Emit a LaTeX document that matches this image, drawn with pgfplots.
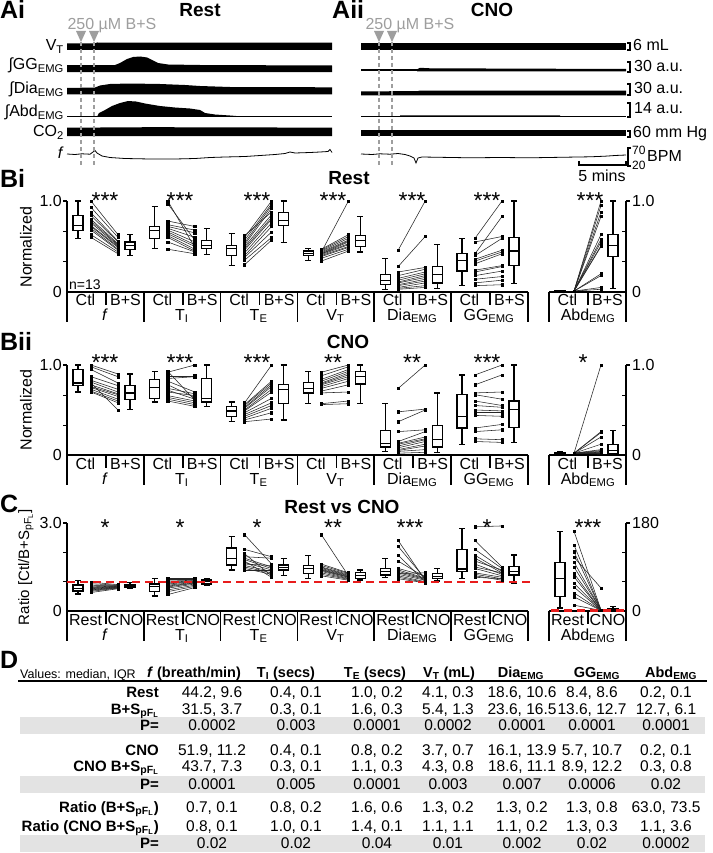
\documentclass[border=0pt]{standalone}
\usepackage{fontspec}
\setmainfont{Liberation Sans}
\usepackage{graphicx}
\usepackage{pgfplots}
\pgfplotsset{compat=1.18}
\usepackage{pgfplotstable}

\newcommand{\fs}[1]{\fontsize{#1}{#1}\selectfont}
\newcommand{\sub}[1]{\textsubscript{#1}}
\newcommand{\pfl}{\sub{pF\sub{L}}}

\definecolor{arrowgray}{gray}{0.62}
\definecolor{bandgray}{gray}{0.89}
\definecolor{ratiored}{RGB}{232,28,28}

\pgfplotsset{
  panel/.style={hide axis, x=1pt, anchor=south west, clip=false, enlargelimits=false, disabledatascaling},
  boxst/.style={black, solid, line width=1.2pt, mark=none},
  pairln/.style={black!85, line width=0.55pt, mark=square*, mark size=1.1pt, mark options={solid, black}},
  refline/.style={draw=ratiored, color=ratiored, line width=2.2pt, dash pattern=on 8pt off 5pt, mark=none},
}
% box plot from its five numbers: position, lower whisker, lower quartile, median, upper quartile, upper whisker
\newcommand{\bx}[6]{%
  \pgfmathsetmacro\bxL{#1-5}\pgfmathsetmacro\bxR{#1+5}%
  \pgfmathsetmacro\cxL{#1-3}\pgfmathsetmacro\cxR{#1+3}%
  \edef\bxtmp{%
    \noexpand\addplot[boxst] coordinates {(#1,#5) (#1,#6)};
    \noexpand\addplot[boxst] coordinates {(#1,#3) (#1,#2)};
    \noexpand\addplot[boxst] coordinates {(\cxL,#6) (\cxR,#6)};
    \noexpand\addplot[boxst] coordinates {(\cxL,#2) (\cxR,#2)};
    \noexpand\addplot[boxst, fill=white] coordinates {(\bxL,#3) (\bxR,#3) (\bxR,#5) (\bxL,#5)} -- cycle;
    \noexpand\addplot[boxst] coordinates {(\bxL,#4) (\bxR,#4)};
  }\bxtmp}

% one line per subject, from the left value to the right value of its group
\newcommand{\drawpairs}[1]{%
  \pgfplotstablegetrowsof{#1}%
  \pgfmathtruncatemacro\nrows{\pgfplotsretval-1}%
  \pgfplotsforeachungrouped \i in {0,...,\nrows}{%
    \pgfplotstablegetelem{\i}{g}\of{#1}\let\pairG\pgfplotsretval
    \pgfplotstablegetelem{\i}{yl}\of{#1}\let\pairL\pgfplotsretval
    \pgfplotstablegetelem{\i}{yr}\of{#1}\let\pairR\pgfplotsretval
    \pgfmathsetmacro\pairXL{\pairG<6 ? 91+76.8*\pairG : 574}%
    \pgfmathsetmacro\pairXR{\pairXL+27}%
    \edef\pairtmp{\noexpand\addplot[pairln] coordinates {(\pairXL,\pairL) (\pairXR,\pairR)};}%
    \pairtmp
  }%
}

% paired values, g = group (0 f, 1 TI, 2 TE, 3 VT, 4 Dia, 5 GG, 6 Abd)
\pgfplotstableread{
g yl yr
0 1.00 0.63
0 0.93 0.60
0 0.87 0.56
0 0.84 0.55
0 0.80 0.53
0 0.78 0.52
0 0.76 0.51
0 0.73 0.50
0 0.72 0.49
0 0.70 0.47
0 0.68 0.46
0 0.63 0.44
0 0.60 0.42
1 1.00 0.49
1 0.97 0.57
1 0.78 0.72
1 0.74 0.68
1 0.72 0.65
1 0.70 0.60
1 0.68 0.55
1 0.66 0.52
1 0.64 0.50
1 0.62 0.47
1 0.60 0.45
1 0.55 0.44
1 0.47 0.42
2 0.62 0.88
2 0.60 1.00
2 0.57 0.97
2 0.54 0.95
2 0.52 0.92
2 0.50 0.85
2 0.48 0.82
2 0.46 0.80
2 0.43 0.76
2 0.40 0.72
2 0.38 0.66
2 0.35 0.60
2 0.30 0.57
3 0.47 0.63
3 0.46 0.61
3 0.45 0.59
3 0.44 1.00
3 0.44 0.57
3 0.43 0.56
3 0.42 0.55
3 0.42 0.53
3 0.41 0.52
3 0.40 0.50
3 0.39 0.49
3 0.37 0.47
3 0.34 0.45
4 0.46 1.00
4 0.28 0.61
4 0.22 0.27
4 0.18 0.25
4 0.15 0.22
4 0.13 0.20
4 0.11 0.18
4 0.10 0.16
4 0.08 0.14
4 0.07 0.12
4 0.05 0.10
4 0.04 0.07
4 0.03 0.05
5 0.59 1.00
5 0.55 0.61
5 0.42 0.83
5 0.40 0.59
5 0.36 0.46
5 0.34 0.44
5 0.31 0.42
5 0.24 0.29
5 0.22 0.28
5 0.18 0.23
5 0.14 0.17
5 0.10 0.13
5 0.07 0.08
6 0.01 1.00
6 0.01 0.95
6 0.01 0.88
6 0.01 0.83
6 0.01 0.63
6 0.01 0.58
6 0.01 0.55
6 0.01 0.51
6 0.01 0.50
6 0.01 0.20
6 0.01 0.18
6 0.01 0.05
6 0.01 0.03
}\BiPairs

\pgfplotstableread{
g yl yr
0 1.00 0.90
0 0.98 0.87
0 0.95 0.80
0 0.87 0.77
0 0.83 0.73
0 0.81 0.70
0 0.80 0.50
0 0.78 0.68
0 0.76 0.67
0 0.75 0.65
0 0.73 0.62
0 0.71 0.60
0 0.70 0.58
1 0.93 0.61
1 0.92 1.00
1 0.88 0.88
1 0.85 0.87
1 0.82 0.70
1 0.78 0.64
1 0.74 0.68
1 0.72 0.62
1 0.70 0.66
1 0.66 0.60
1 0.64 0.58
1 0.62 0.56
1 0.60 0.54
2 0.58 1.00
2 0.56 0.82
2 0.55 0.80
2 0.53 0.78
2 0.52 0.76
2 0.50 0.73
2 0.49 0.70
2 0.47 0.63
2 0.45 0.58
2 0.43 0.55
2 0.41 0.52
2 0.39 0.47
2 0.37 0.40
3 0.92 1.00
3 0.88 0.98
3 0.84 0.95
3 0.82 0.93
3 0.80 0.91
3 0.79 0.89
3 0.78 0.87
3 0.76 0.85
3 0.74 0.82
3 0.71 0.78
3 0.69 0.70
3 0.57 0.60
3 0.56 0.57
4 0.74 1.00
4 0.48 0.51
4 0.37 0.50
4 0.26 0.28
4 0.15 0.26
4 0.13 0.20
4 0.12 0.18
4 0.10 0.17
4 0.08 0.15
4 0.06 0.12
4 0.05 0.10
4 0.04 0.06
4 0.02 0.03
5 0.89 1.00
5 0.78 0.89
5 0.69 0.70
5 0.67 0.62
5 0.60 0.55
5 0.55 0.53
5 0.50 0.49
5 0.47 0.47
5 0.44 0.43
5 0.30 0.34
5 0.26 0.28
5 0.18 0.17
5 0.15 0.14
6 0.02 1.00
6 0.02 0.26
6 0.02 0.25
6 0.02 0.20
6 0.02 0.12
6 0.02 0.06
6 0.02 0.05
6 0.02 0.04
6 0.02 0.03
6 0.02 0.03
6 0.02 0.02
6 0.02 0.02
6 0.02 0.01
}\BiiPairs

\pgfplotstableread{
g yl yr
0 0.98 0.90
0 0.93 0.88
0 0.88 0.87
0 0.85 0.86
0 0.82 0.85
0 0.80 0.84
0 0.78 0.83
0 0.76 0.82
0 0.74 0.81
0 0.72 0.80
0 0.70 0.79
0 0.67 0.78
0 0.63 0.76
1 1.12 1.12
1 1.08 1.08
1 1.02 1.05
1 0.98 1.03
1 0.95 1.01
1 0.92 1.00
1 0.88 0.98
1 0.85 0.96
1 0.82 0.95
1 0.78 0.92
1 0.72 0.88
1 0.66 0.84
1 0.56 0.80
2 2.60 1.60
2 2.10 1.85
2 1.95 1.20
2 1.85 1.80
2 1.80 1.50
2 1.75 1.45
2 1.70 1.15
2 1.65 1.40
2 1.60 1.55
2 1.55 1.35
2 1.50 1.30
2 1.45 1.25
2 1.40 1.40
3 2.60 1.20
3 1.60 1.30
3 1.55 1.28
3 1.50 1.25
3 1.48 1.22
3 1.45 1.20
3 1.42 1.18
3 1.40 1.16
3 1.38 1.15
3 1.35 1.12
3 1.30 1.10
3 1.25 1.08
3 1.20 1.05
4 2.40 1.05
4 2.20 1.10
4 1.90 1.00
4 1.70 1.15
4 1.45 1.20
4 1.40 1.12
4 1.35 1.10
4 1.30 1.08
4 1.28 1.30
4 1.25 1.05
4 1.20 1.00
4 1.15 0.98
4 1.10 0.96
5 2.87 2.90
5 2.40 1.50
5 2.10 1.45
5 1.90 1.35
5 1.80 1.30
5 1.70 1.40
5 1.60 1.25
5 1.50 1.30
5 1.45 1.20
5 1.30 1.15
5 1.25 1.10
5 1.20 1.05
5 1.15 1.10
}\CPairs

\pgfplotstableread{
g yl yr
6 163 2
6 135 2
6 121 2
6 110 47
6 100 2
6 90 2
6 77 1
6 70 1
6 57 1
6 49 1
6 37 1
6 29 1
6 12 1
}\CAbdPairs

\tikzset{
  axl/.style={black, line width=1.6pt},
  lab/.style={font=\fs{16}, inner sep=0pt, anchor=base},
  ttl/.style={font=\bfseries\fs{19}, inner sep=0pt, anchor=base},
  plab/.style={font=\bfseries\fs{25}, inner sep=0pt, anchor=base west},
  star/.style={font=\fs{23}, inner sep=0pt, anchor=base},
  tl/.style={font=\bfseries\fs{15}, inner sep=0pt, anchor=base east},
  tv/.style={font=\fs{15.5}, inner sep=0pt, anchor=base},
  th/.style={font=\bfseries\fs{14.5}, inner sep=0pt, anchor=base},
}

% frame of a B/C panel: #1 = zero line (px), #2 = top (px)
\newcommand{\panelframe}[2]{%
  \draw[axl] (67,#2) -- (67,#1+30);
  \draw[axl] (626,#2) -- (626,#1+30);
  \draw[axl] (67,#1) -- (527.8,#1);
  \draw[axl] (549,#1) -- (626,#1);
  \foreach \b in {143.8,220.6,297.4,374.2,451,527.8,549} \draw[axl] (\b,#1) -- (\b,#1+30);
  \foreach \t in {106,182.8,259.6,336.4,413.2,490,588} \draw[axl] (\t,#1) -- (\t,#1+13);
}
% condition labels: #1 baseline, #2 left, #3 right
\newcommand{\condlabels}[3]{%
  \foreach \s in {67,143.8,220.6,297.4,374.2,451,549} {
    \node[lab] at (\s+18.5,#1) {#2};
    \node[lab] at (\s+58.5,#1) {#3};
  }
}
\newcommand{\grouplabels}[1]{%
  \node[lab] at (105,#1) {\textit{f}};
  \node[lab] at (181.8,#1) {T\sub{I}};
  \node[lab] at (258.6,#1) {T\sub{E}};
  \node[lab] at (335.4,#1) {V\sub{T}};
  \node[lab] at (412.2,#1) {Dia\sub{EMG}};
  \node[lab] at (489,#1) {GG\sub{EMG}};
  \node[lab] at (588,#1) {Abd\sub{EMG}};
}
\newcommand{\trow}[9]{%
  \node[tl] at (159,#1) {#2};
  \node[tv] at (212,#1) {#3};
  \node[tv] at (296,#1) {#4};
  \node[tv] at (377,#1) {#5};
  \node[tv] at (448,#1) {#6};
  \node[tv] at (522,#1) {#7};
  \node[tv] at (592,#1) {#8};
  \node[tv] at (666,#1) {#9};
}

\begin{document}
\begin{tikzpicture}
\fill[white] (0,0) rectangle (712pt,-853pt);
\path[use as bounding box] (0,0) rectangle (712pt,-853pt);

% ---------- labels, frames, table (drawn first, data on top) ----------
\begin{scope}[x=1pt, y=-1pt]
% A
\node[plab] at (0,19) {Ai};
\node[ttl] at (200,17) {Rest};
\node[plab] at (332,19) {Aii};
\node[ttl] at (492,17) {CNO};
\foreach \x in {112,410} \node[lab, text=arrowgray] at (\x,30) {250 µM B+S};
\node[lab, anchor=base east] at (64,50.5) {V\sub{T}};
\node[lab, anchor=base east] at (64,70) {∫GG\sub{EMG}};
\node[lab, anchor=base east] at (64,94) {∫Dia\sub{EMG}};
\node[lab, anchor=base east] at (64,117) {∫Abd\sub{EMG}};
\node[lab, anchor=base east] at (64,137) {CO\sub{2}};
\node[lab, anchor=base east] at (64,159) {\textit{f}};
% scale bars
\draw[line width=1.1pt] (627,43) -- (630,43) -- (630,50) -- (627,50);
\draw[line width=1.1pt] (627,62) -- (630,62) -- (630,72) -- (627,72);
\draw[line width=1.1pt] (627,84) -- (630,84) -- (630,95) -- (627,95);
\draw[line width=1.1pt] (627,103) -- (630,103) -- (630,117) -- (627,117);
\draw[line width=1.1pt] (627,131) -- (630,131) -- (630,137) -- (627,137);
\draw[line width=1.1pt] (631,148) -- (628,148) -- (628,166) -- (631,166);
\node[lab, anchor=base west] at (633,51) {6 mL};
\node[lab, anchor=base west] at (634,72) {30 a.u.};
\node[lab, anchor=base west] at (634,94) {30 a.u.};
\node[lab, anchor=base west] at (634,114) {14 a.u.};
\node[lab, anchor=base west] at (633,138) {60 mm Hg};
\node[font=\fs{12}, inner sep=0pt, anchor=base west] at (632,155) {70};
\node[font=\fs{12}, inner sep=0pt, anchor=base west] at (632,170) {20};
\node[lab, anchor=base west] at (647,162) {BPM};
\draw[line width=1.1pt] (579,161) -- (579,165) -- (626,165) -- (626,161);
\node[lab] at (602,182) {5 mins};

% Bi
\node[plab] at (0,187) {Bi};
\node[ttl] at (349,185) {Rest};
\panelframe{292}{201}
\condlabels{305}{Ctl}{B+S}
\grouplabels{320}
\node[font=\fs{14}, inner sep=0pt, anchor=base west] at (69,289) {n=13};
\node[font=\fs{16}, rotate=90] at (26,247) {Normalized};
\foreach \y/\t in {201/1.0, 292/0} \node[lab, anchor=base east] at (62,\y+5.5) {\t};
\foreach \y/\t in {201/1.0, 292/0} \node[lab, anchor=base west] at (632,\y+5.5) {\t};
\foreach \y in {231.3,261.7} {\draw[axl, line width=1pt] (67,\y) -- (63,\y); \draw[axl, line width=1pt] (626,\y) -- (622,\y);}
\draw[axl] (63,201) -- (67,201); \draw[axl] (626,201) -- (630,201);
\foreach \x/\s in {105/***,180/***,257/***,333/***,412/***,487/***,590/***} \node[star] at (\x,208) {\s};

% Bii
\node[plab] at (0,350) {Bii};
\node[ttl] at (348,348) {CNO};
\panelframe{455}{365}
\condlabels{469}{Ctl}{B+S}
\grouplabels{484}
\node[font=\fs{16}, rotate=90] at (26,410) {Normalized};
\foreach \y/\t in {365/1.0, 455/0} \node[lab, anchor=base east] at (62,\y+5.5) {\t};
\foreach \y/\t in {365/1.0, 455/0} \node[lab, anchor=base west] at (632,\y+5.5) {\t};
\foreach \y in {395,425} {\draw[axl, line width=1pt] (67,\y) -- (63,\y); \draw[axl, line width=1pt] (626,\y) -- (622,\y);}
\draw[axl] (63,365) -- (67,365); \draw[axl] (626,365) -- (630,365);
\foreach \x/\s in {105/***,180/***,257/***,333/**,412/**,487/***,583/*} \node[star] at (\x,370) {\s};

% C
\node[plab] at (0,512) {C};
\node[ttl] at (342,513) {Rest vs CNO};
\panelframe{611}{523}
\condlabels{625}{Rest}{CNO}
\grouplabels{640}
\node[font=\fs{15}, rotate=90] at (26,567) {Ratio [Ctl/B+S\pfl]};
\foreach \y/\t in {523/3.0, 611/0} \node[lab, anchor=base east] at (62,\y+5.5) {\t};
\foreach \y/\t in {523/180, 611/0} \node[lab, anchor=base west] at (632,\y+5.5) {\t};
\foreach \y in {552.3,581.7} {\draw[axl, line width=1pt] (67,\y) -- (63,\y); \draw[axl, line width=1pt] (626,\y) -- (622,\y);}
\draw[axl] (63,523) -- (67,523); \draw[axl] (626,523) -- (630,523);
\foreach \x/\s in {105/*,180/*,257/*,333/**,410/***,487/*,588/***} \node[star] at (\x,535) {\s};

% D
\node[plab] at (0,668) {D};
\fill[bandgray] (20,717) rectangle (705,734);
\fill[bandgray] (20,776) rectangle (705,793);
\fill[bandgray] (20,835) rectangle (705,852);
\draw[line width=1.5pt] (18,681) -- (707,681);
\node[font=\fs{12.5}, inner sep=0pt, anchor=base west] at (20,678) {Values: median, IQR};
\node[th] at (194,677) {\textit{f} (breath/min)};
\node[th] at (286,677) {T\sub{I} (secs)};
\node[th] at (375,677) {T\sub{E} (secs)};
\node[th] at (449,677) {V\sub{T} (mL)};
\node[th] at (521,677) {Dia\sub{EMG}};
\node[th] at (597,677) {GG\sub{EMG}};
\node[th] at (671,677) {Abd\sub{EMG}};
\trow{697}{Rest}{44.2, 9.6}{0.4, 0.1}{1.0, 0.2}{4.1, 0.3}{18.6, 10.6}{8.4, 8.6}{0.2, 0.1}
\trow{714}{B+S\pfl}{31.5, 3.7}{0.3, 0.1}{1.6, 0.3}{5.4, 1.3}{23.6, 16.5}{13.6, 12.7}{12.7, 6.1}
\trow{730}{P=}{0.0002}{0.003}{0.0001}{0.0002}{0.0001}{0.0001}{0.0001}
\trow{755}{CNO}{51.9, 11.2}{0.4, 0.1}{0.8, 0.2}{3.7, 0.7}{16.1, 13.9}{5.7, 10.7}{0.2, 0.1}
\trow{771}{CNO B+S\pfl}{43.7, 7.3}{0.3, 0.1}{1.1, 0.3}{4.3, 0.8}{18.6, 11.1}{8.9, 12.2}{0.3, 0.8}
\trow{789}{P=}{0.0001}{0.005}{0.0001}{0.003}{0.007}{0.0006}{0.02}
\trow{812}{Ratio (B+S\pfl)}{0.7, 0.1}{0.8, 0.2}{1.6, 0.6}{1.3, 0.2}{1.3, 0.2}{1.3, 0.8}{63.0, 73.5}
\trow{831}{Ratio (CNO B+S\pfl)}{0.8, 0.1}{1.0, 0.1}{1.4, 0.1}{1.1, 1.1}{1.1, 0.2}{1.3, 0.3}{1.1, 3.6}
\trow{848}{P=}{0.02}{0.02}{0.04}{0.01}{0.002}{0.02}{0.0002}
\end{scope}

% ---------- A: traces ----------
\begin{axis}[panel, y=1pt, xmin=60, xmax=640, ymin=-170, ymax=-30, at={(60pt,-170pt)}]
% Ai
\addplot[fill=black, draw=none] coordinates {(67,-43.5) (94,-43.5) (97,-42.5) (332,-42.6) (332,-50) (67,-50)};
\addplot[fill=black, draw=none] coordinates {(67,-65) (115,-65) (120,-63) (127,-59) (133,-57) (140,-56.5) (147,-57.5) (152,-60) (158,-63) (168,-64.5) (200,-65) (332,-65.5) (332,-72) (67,-72)};
\addplot[fill=black, draw=none] coordinates {(67,-88) (95,-87.5) (100,-85.5) (110,-84) (130,-83.5) (160,-84) (185,-85) (200,-86) (230,-87) (332,-87.3) (332,-94.3) (67,-94.3)};
\addplot[black, line width=0.8pt] coordinates {(67,-116.7) (332,-116.7)};
\addplot[fill=black, draw=none] coordinates {(97,-116.7) (99,-113) (105,-110) (112,-106) (120,-103) (128,-101) (136,-101.5) (145,-103.5) (160,-106) (175,-107.5) (190,-108.5) (200,-110) (205,-113) (215,-114.5) (230,-115.5) (245,-116.7)};
\addplot[fill=black, draw=none] coordinates {(67,-127.7) (150,-127.2) (250,-127.4) (332,-127.7) (332,-136) (67,-136)};
\addplot[black, line width=0.8pt] coordinates {(67,-154) (75,-154.5) (82,-153.8) (90,-154.2) (93,-152) (95,-150.5) (97,-153) (102,-156) (110,-157.5) (125,-158.5) (150,-159) (175,-159) (195,-158.5) (210,-157.5) (225,-157) (245,-156.5) (260,-155.5) (275,-154.5) (285,-153.5) (290,-152) (295,-153) (310,-152.5) (320,-152) (328,-151.5) (330,-149.5) (332,-152.5)};
% Aii
\addplot[fill=black, draw=none] coordinates {(361,-43) (626,-43) (626,-50) (361,-50)};
\addplot[black, line width=1.1pt] coordinates {(361,-70) (417,-70)};
\addplot[fill=black, draw=none] coordinates {(417,-69.3) (420,-67.8) (430,-68.3) (626,-69) (626,-71.3) (417,-71.3)};
\addplot[fill=black, draw=none] coordinates {(361,-91.3) (417,-91.2) (420,-90.6) (626,-90.7) (626,-95.3) (361,-95.3)};
\addplot[black, line width=0.9pt] coordinates {(361,-116) (626,-116)};
\addplot[fill=black, draw=none] coordinates {(400,-115.3) (560,-115.4) (560,-116.6) (400,-116.6)};
\addplot[fill=black, draw=none] coordinates {(361,-130) (626,-130) (626,-136.3) (361,-136.3)};
\addplot[black, line width=0.8pt] coordinates {(361,-154) (372,-154.5) (380,-153.8) (390,-154.2) (398,-153.5) (405,-154.5) (410,-156) (414,-158) (416,-163) (418,-158) (422,-157) (440,-157.3) (470,-157.8) (500,-157.5) (530,-157.8) (560,-157.3) (590,-156.8) (605,-156.2) (615,-155.5) (626,-155)};
\end{axis}

% drug arrows and dashed markers over the traces
\begin{scope}[x=1pt, y=-1pt]
\foreach \x in {81,94,379,392} {
  \fill[arrowgray] (\x-5,31) -- (\x+5,31) -- (\x,42) -- cycle;
  \draw[arrowgray, line width=1.1pt, dash pattern=on 4pt off 3pt] (\x,42) -- (\x,167);
}
\end{scope}

% ---------- Bi ----------
\begin{axis}[panel, y=91pt, xmin=67, xmax=626, ymin=0, ymax=1, at={(67pt,-292pt)}]
\drawpairs{\BiPairs}
\bx{78}{0.59}{0.68}{0.73}{0.84}{1.00}
\bx{130}{0.40}{0.47}{0.51}{0.55}{0.63}
\bx{154.8}{0.48}{0.59}{0.68}{0.72}{0.94}
\bx{206.8}{0.41}{0.48}{0.51}{0.57}{0.70}
\bx{231.6}{0.29}{0.40}{0.48}{0.51}{0.64}
\bx{283.6}{0.54}{0.73}{0.79}{0.875}{1.00}
\bx{308.4}{0.35}{0.40}{0.42}{0.45}{0.48}
\bx{360.4}{0.44}{0.50}{0.57}{0.625}{0.83}
\bx{385.2}{0.03}{0.08}{0.13}{0.19}{0.37}
\bx{437.2}{0.04}{0.10}{0.19}{0.28}{0.52}
\bx{462}{0.07}{0.23}{0.35}{0.42}{0.59}
\bx{514}{0.09}{0.29}{0.45}{0.60}{1.00}
\bx{560}{0.00}{0.005}{0.01}{0.015}{0.02}
\bx{613}{0.04}{0.39}{0.51}{0.63}{1.00}
\end{axis}

% ---------- Bii ----------
\begin{axis}[panel, y=90pt, xmin=67, xmax=626, ymin=0, ymax=1, at={(67pt,-455pt)}]
\drawpairs{\BiiPairs}
\bx{78}{0.70}{0.77}{0.80}{0.95}{1.00}
\bx{130}{0.51}{0.62}{0.69}{0.77}{0.90}
\bx{154.8}{0.59}{0.63}{0.75}{0.84}{0.93}
\bx{206.8}{0.54}{0.59}{0.63}{0.85}{1.00}
\bx{231.6}{0.37}{0.43}{0.49}{0.54}{0.59}
\bx{283.6}{0.39}{0.57}{0.73}{0.78}{1.00}
\bx{308.4}{0.57}{0.69}{0.74}{0.81}{0.93}
\bx{360.4}{0.57}{0.79}{0.87}{0.93}{1.00}
\bx{385.2}{0.04}{0.09}{0.13}{0.27}{0.57}
\bx{437.2}{0.03}{0.09}{0.17}{0.33}{0.69}
\bx{462}{0.12}{0.30}{0.43}{0.67}{0.89}
\bx{514}{0.14}{0.31}{0.51}{0.60}{1.00}
\bx{560}{0.01}{0.015}{0.02}{0.03}{0.04}
\bx{613}{0.00}{0.02}{0.05}{0.12}{0.27}
\end{axis}

% ---------- C ----------
\begin{axis}[panel, y=29.333pt, xmin=67, xmax=528, ymin=0, ymax=3, at={(67pt,-611pt)}]
\drawpairs{\CPairs}
\bx{78}{0.58}{0.68}{0.78}{0.89}{1.05}
\bx{130}{0.76}{0.80}{0.85}{0.91}{0.96}
\bx{154.8}{0.51}{0.67}{0.83}{0.92}{1.12}
\bx{206.8}{0.86}{0.92}{1.00}{1.06}{1.12}
\bx{231.6}{1.40}{1.57}{1.80}{2.15}{2.55}
\bx{283.6}{1.20}{1.40}{1.48}{1.57}{1.80}
\bx{308.4}{1.11}{1.28}{1.45}{1.55}{1.89}
\bx{360.4}{1.06}{1.11}{1.20}{1.32}{1.40}
\bx{385.2}{1.14}{1.23}{1.34}{1.45}{1.80}
\bx{437.2}{1.02}{1.11}{1.18}{1.28}{1.45}
\bx{462}{1.11}{1.34}{1.43}{2.11}{2.82}
\bx{514}{0.94}{1.23}{1.36}{1.51}{1.91}
\addplot[refline] coordinates {(67,1) (532,1)};
\end{axis}

\begin{axis}[panel, y=0.48889pt, xmin=549, xmax=626, ymin=0, ymax=180, at={(549pt,-611pt)}]
\drawpairs{\CAbdPairs}
\bx{560}{6}{29}{67}{100}{163}
\bx{613}{0.7}{2}{3.4}{5.5}{9}
\addplot[refline] coordinates {(551,1) (625,1)};
\end{axis}
\end{tikzpicture}
\end{document}
